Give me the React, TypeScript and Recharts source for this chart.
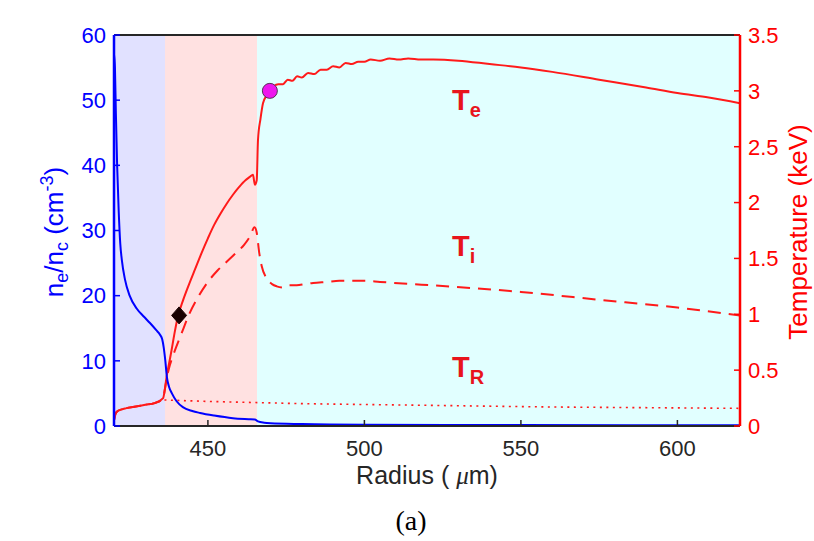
import React from 'react';
import {
  ComposedChart,
  Line,
  XAxis,
  YAxis,
  ReferenceArea,
  ReferenceDot
} from 'recharts';

// electron density n_e/n_c (left axis)
const neRadius = [420, 420.3, 420.6, 421, 421.5, 422, 422.5, 423.5, 425, 427.3, 429.5, 431.5, 433.5, 434.7, 435.4, 435.9, 436.4, 436.9, 437.6, 438.5, 440, 442, 445, 447.5, 452, 458, 463, 465, 466, 468, 470, 480, 500, 550, 620];
const neValues = [57, 55, 48, 40, 33, 28, 25.5, 22.5, 20, 18, 16.8, 15.8, 14.7, 14, 13.3, 12, 10, 7.5, 6, 5, 3.8, 2.9, 2.3, 2, 1.6, 1.2, 1.05, 1.0, 0.7, 0.5, 0.42, 0.3, 0.2, 0.15, 0.1];

// electron temperature T_e (keV)
const teRadius = [420, 420.5, 421, 422, 424, 427, 430, 433, 435.7, 436.2, 436.8, 437.6, 438.4, 439.4, 440.4, 442, 444, 446, 448, 450, 452, 454, 456, 458, 460, 462, 463.4, 464.4, 465, 465.6, 466, 466.8, 467.6, 468.8, 469.8, 471, 472.5, 474, 475.5, 477, 478.5, 480, 482, 484, 486, 488, 490, 492, 494, 496, 498, 500, 502, 505, 508, 511, 514, 518, 522, 530, 540, 550, 560, 575, 590, 600, 610, 620];
const teValues = [0.05, 0.11, 0.13, 0.145, 0.16, 0.175, 0.19, 0.205, 0.25, 0.32, 0.44, 0.56, 0.68, 0.84, 0.98, 1.12, 1.27, 1.41, 1.55, 1.68, 1.8, 1.9, 1.99, 2.07, 2.14, 2.2, 2.23, 2.25, 2.16, 2.2, 2.56, 2.75, 2.89, 2.96, 3.0, 3.04, 3.06, 3.06, 3.1, 3.09, 3.13, 3.12, 3.16, 3.15, 3.19, 3.19, 3.22, 3.21, 3.25, 3.24, 3.26, 3.26, 3.28, 3.27, 3.29, 3.28, 3.29, 3.28, 3.28, 3.27, 3.24, 3.21, 3.17, 3.1, 3.03, 2.98, 2.94, 2.89];

// ion temperature T_i (keV)
const tiRadius = [420, 420.5, 421, 422, 424, 427, 430, 433, 435.7, 436.2, 436.8, 437.6, 439, 441.6, 444, 447, 450, 453, 456, 459, 461.5, 463.5, 464.9, 465.6, 466.4, 467.2, 468.8, 470.5, 472, 474, 476, 478.4, 481, 483.6, 488, 492, 500, 505, 515, 521, 550, 575, 600, 620];
const tiValues = [0.05, 0.11, 0.13, 0.145, 0.16, 0.175, 0.19, 0.205, 0.25, 0.32, 0.42, 0.52, 0.64, 0.83, 1.0, 1.16, 1.29, 1.39, 1.47, 1.55, 1.62, 1.7, 1.78, 1.73, 1.55, 1.43, 1.32, 1.27, 1.25, 1.24, 1.26, 1.26, 1.27, 1.28, 1.29, 1.3, 1.3, 1.29, 1.27, 1.26, 1.2, 1.13, 1.06, 0.99];

// radiation temperature T_R (keV)
const trRadius = [420, 420.5, 421, 422, 424, 427, 430, 433, 436, 450, 480, 520, 560, 620];
const trValues = [0.05, 0.11, 0.13, 0.145, 0.16, 0.175, 0.19, 0.205, 0.233, 0.22, 0.2, 0.185, 0.17, 0.158];

const radiusTicks = [450, 500, 550, 600];
const neTicks = [0, 10, 20, 30, 40, 50, 60];
const tTicks = [0, 0.5, 1, 1.5, 2, 2.5, 3, 3.5];

const regionEdges = [420, 436.3, 465.7, 620];
const regionColors = ['#e1e1ff', '#ffe1e1', '#e1ffff'];

// markers
const diamondPoint = { r: 440.8, t: 0.99 };
const circlePoint = { r: 469.8, t: 3.0 };
const labelRadius = 528;
const labelTemps = [2.83, 1.52, 0.44];
const labelSubs = ['e', 'i', 'R'];

const zip = (xs: number[], ys: number[]) => xs.map((r, i) => ({ r, v: ys[i] }));

const neData = zip(neRadius, neValues);
const teData = zip(teRadius, teValues);
const tiData = zip(tiRadius, tiValues);
const trData = zip(trRadius, trValues);

const SANS = '"Liberation Sans", Arial, Helvetica, sans-serif';
const DARK = '#262626';

const Diamond = (props: any) => {
  const { cx, cy } = props;
  return (
    <polygon
      points={`${cx},${cy - 8.5} ${cx + 7.5},${cy} ${cx},${cy + 8.5} ${cx - 7.5},${cy}`}
      fill="#1a0000"
      stroke="#1a0000"
    />
  );
};

const tempLabel = (sub: string) => (props: any) => (
  <text x={props.cx} y={props.cy} fill="#e8141c" fontFamily={SANS} fontWeight="bold" fontSize={29}>
    T<tspan fontSize={20} dy={7}>{sub}</tspan>
  </text>
);

export default function App() {
  return (
    <div style={{ position: 'absolute', left: 0, top: 0, background: '#fff' }}>
      <ComposedChart
        width={814}
        height={541}
        margin={{ top: 34, right: 0, bottom: 0, left: 0 }}
        style={{ fontFamily: SANS }}
      >
        {regionColors.map((c, i) => (
          <ReferenceArea
            key={c}
            xAxisId="x"
            yAxisId="ne"
            x1={regionEdges[i]}
            x2={regionEdges[i + 1]}
            y1={0}
            y2={60}
            fill={c}
            fillOpacity={1}
            stroke="none"
          />
        ))}
        <XAxis
          xAxisId="x"
          dataKey="r"
          type="number"
          domain={[420, 620]}
          ticks={radiusTicks}
          allowDataOverflow
          height={115}
          tickSize={-6}
          tickMargin={20}
          axisLine={{ stroke: DARK, strokeWidth: 2 }}
          tickLine={{ stroke: DARK, strokeWidth: 1.5 }}
          tick={{ fill: DARK, fontSize: 22 }}
        />
        <XAxis
          xAxisId="top"
          orientation="top"
          type="number"
          domain={[420, 620]}
          ticks={radiusTicks}
          allowDataOverflow
          height={1}
          tickSize={-6}
          tick={false}
          axisLine={{ stroke: DARK, strokeWidth: 2 }}
          tickLine={{ stroke: DARK, strokeWidth: 1.5 }}
        />
        <YAxis
          yAxisId="ne"
          domain={[0, 60]}
          ticks={neTicks}
          width={114}
          tickSize={-6}
          tickMargin={14}
          axisLine={{ stroke: '#0000ff', strokeWidth: 2.5 }}
          tickLine={{ stroke: '#0000ff', strokeWidth: 1.5 }}
          tick={{ fill: '#0000ff', fontSize: 22 }}
        />
        <YAxis
          yAxisId="t"
          orientation="right"
          domain={[0, 3.5]}
          ticks={tTicks}
          width={74}
          tickSize={-6}
          tickMargin={14}
          axisLine={{ stroke: '#ff0000', strokeWidth: 2.5 }}
          tickLine={{ stroke: '#ff0000', strokeWidth: 1.5 }}
          tick={{ fill: '#ff0000', fontSize: 22 }}
        />
        <Line data={trData} xAxisId="x" yAxisId="t" dataKey="v" type="linear" stroke="#ff1a1a" strokeWidth={1.6} strokeDasharray="2 4.5" dot={false} isAnimationActive={false} />
        <Line data={tiData} xAxisId="x" yAxisId="t" dataKey="v" type="monotone" stroke="#ff1a1a" strokeWidth={2} strokeDasharray="13 8" dot={false} isAnimationActive={false} />
        <Line data={teData} xAxisId="x" yAxisId="t" dataKey="v" type="monotone" stroke="#ff1a1a" strokeWidth={2} dot={false} isAnimationActive={false} />
        <Line data={neData} xAxisId="x" yAxisId="ne" dataKey="v" type="monotone" stroke="#0000ff" strokeWidth={2} dot={false} isAnimationActive={false} />
        <ReferenceDot xAxisId="x" yAxisId="t" x={diamondPoint.r} y={diamondPoint.t} shape={Diamond} />
        <ReferenceDot xAxisId="x" yAxisId="t" x={circlePoint.r} y={circlePoint.t} r={7.5} fill="#ee16ee" stroke="#553355" strokeWidth={1} />
        {labelTemps.map((t, i) => (
          <ReferenceDot key={labelSubs[i]} xAxisId="x" yAxisId="t" x={labelRadius} y={t} shape={tempLabel(labelSubs[i])} />
        ))}
        <text x={427} y={484} textAnchor="middle" fill={DARK} fontFamily={SANS} fontSize={25}>
          Radius ( <tspan fontFamily='"Liberation Serif", serif' fontStyle="italic">μ</tspan>m)
        </text>
        <text transform="translate(63,232) rotate(-90)" textAnchor="middle" fill="#0000ff" fontFamily={SANS} fontSize={26}>
          n<tspan fontSize={18} dy={5}>e</tspan><tspan dy={-5}>/n</tspan><tspan fontSize={18} dy={5}>c</tspan><tspan dy={-5}> (cm</tspan><tspan fontSize={18} dy={-10}>-3</tspan><tspan dy={10}>)</tspan>
        </text>
        <text transform="translate(807,232) rotate(-90)" textAnchor="middle" fill="#ff0000" fontFamily={SANS} fontSize={26}>
          Temperature (keV)
        </text>
        <text x={411} y={530} textAnchor="middle" fill="#000" fontFamily='"Liberation Serif", serif' fontSize={28}>
          (a)
        </text>
      </ComposedChart>
    </div>
  );
}
